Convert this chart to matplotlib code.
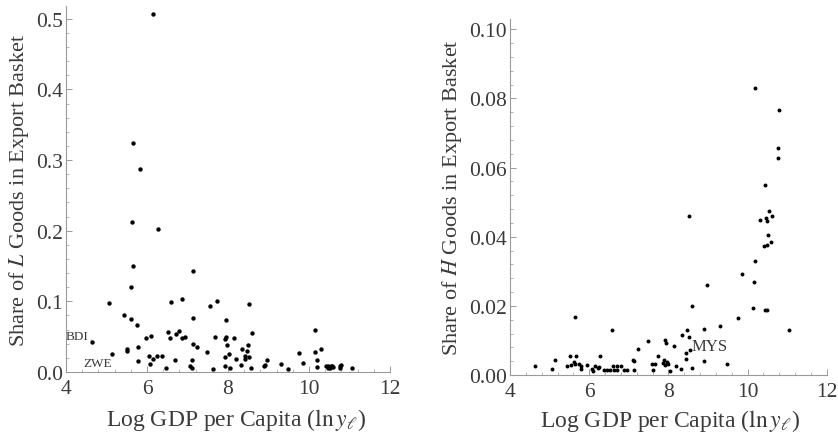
import matplotlib
matplotlib.use("Agg")
from matplotlib import pyplot as plt
from matplotlib.ticker import AutoMinorLocator, MultipleLocator, FormatStrFormatter

# share of L goods vs log gdp per capita
lx = [6.16, 5.65, 5.82, 5.62, 6.26, 5.65, 7.14, 5.61, 5.06, 6.59, 6.86, 7.55, 7.74, 8.51,
      5.42, 5.61, 7.13, 5.76, 7.95, 4.63, 5.14, 5.51, 5.51, 5.79, 5.78, 5.97, 6.11, 6.06,
      6.07, 6.16, 6.25, 6.37, 6.46, 6.52, 6.58, 6.71, 6.80, 6.86, 6.94, 6.69, 7.13, 7.23,
      7.11, 7.06, 7.10, 7.47, 7.62, 7.69, 8.60, 7.95, 7.93, 8.15, 7.98, 8.50, 8.35, 8.46,
      7.93, 8.03, 8.20, 8.31, 8.41, 8.43, 8.53, 8.04, 7.93, 8.58, 8.90, 8.92, 8.97, 9.30,
      9.48, 9.76, 9.86, 10.14, 10.16, 10.30, 10.19, 10.20, 10.42, 10.46, 10.50, 10.53,
      10.56, 10.60, 10.48, 10.55, 10.77, 10.77, 10.78, 11.05]
ly = [0.507, 0.324, 0.288, 0.212, 0.203, 0.150, 0.143, 0.120, 0.097, 0.099, 0.103, 0.093,
      0.100, 0.096, 0.081, 0.075, 0.077, 0.067, 0.073, 0.043, 0.025, 0.033, 0.030, 0.036,
      0.015, 0.048, 0.051, 0.023, 0.012, 0.018, 0.023, 0.023, 0.006, 0.057, 0.048, 0.054,
      0.058, 0.048, 0.050, 0.017, 0.040, 0.035, 0.017, 0.009, 0.005, 0.028, 0.004, 0.050,
      0.055, 0.049, 0.046, 0.048, 0.038, 0.038, 0.032, 0.030, 0.021, 0.025, 0.019, 0.010,
      0.022, 0.019, 0.021, 0.005, 0.009, 0.006, 0.008, 0.010, 0.017, 0.012, 0.004, 0.027,
      0.013, 0.059, 0.028, 0.032, 0.017, 0.007, 0.009, 0.008, 0.007, 0.006, 0.008, 0.007,
      0.006, 0.009, 0.008, 0.006, 0.010, 0.006]

# share of H goods vs log gdp per capita
rx = [10.19, 10.80, 10.76, 10.78, 10.43, 8.52, 10.31, 10.47, 10.50, 10.55, 10.63, 10.52,
      10.59, 10.42, 10.49, 10.20, 9.87, 10.16, 8.98, 8.60, 10.15, 10.45, 10.50, 9.77, 5.63,
      9.30, 8.91, 11.06, 6.58, 8.46, 8.35, 8.51, 7.49, 7.92, 7.94, 8.15, 7.23, 8.55, 8.44,
      5.52, 5.67, 6.27, 5.14, 7.75, 8.44, 8.91, 9.48, 4.64, 5.07, 5.43, 5.54, 5.62, 5.63,
      5.74, 5.79, 5.79, 5.95, 6.06, 6.09, 6.15, 6.22, 6.24, 6.38, 6.46, 6.53, 6.61, 6.70,
      6.80, 6.63, 6.71, 6.88, 6.95, 7.10, 7.13, 7.12, 7.58, 7.66, 7.62, 7.87, 7.92, 7.96,
      8.00, 7.90, 8.19, 8.32, 8.05, 8.59]
ry = [0.0829, 0.0767, 0.0658, 0.0627, 0.0551, 0.0459, 0.0449, 0.0453, 0.0447, 0.0474,
      0.0460, 0.0405, 0.0386, 0.0372, 0.0375, 0.0330, 0.0293, 0.0270, 0.0259, 0.0199,
      0.0194, 0.0187, 0.0187, 0.0165, 0.0168, 0.0143, 0.0134, 0.0130, 0.0129, 0.0130,
      0.0117, 0.0110, 0.0099, 0.0102, 0.0094, 0.0083, 0.0075, 0.0073, 0.0064, 0.0056,
      0.0056, 0.0056, 0.0043, 0.0054, 0.0045, 0.0040, 0.0032, 0.0025, 0.0017, 0.0027,
      0.0030, 0.0038, 0.0032, 0.0032, 0.0025, 0.0017, 0.0029, 0.0017, 0.0012, 0.0025,
      0.0019, 0.0022, 0.0014, 0.0014, 0.0014, 0.0025, 0.0025, 0.0025, 0.0014, 0.0014,
      0.0014, 0.0014, 0.0043, 0.0040, 0.0014, 0.0032, 0.0032, 0.0014, 0.0035, 0.0030,
      0.0038, 0.0032, 0.0042, 0.0026, 0.0017, 0.0012, 0.0021]

plt.rcParams['font.family'] = ['Liberation Serif', 'DejaVu Serif']
plt.rcParams['mathtext.fontset'] = 'stix'

axcol = '#9a9a9a'
txtcol = '#3a3a3a'

fig = plt.figure(figsize=(8.38, 4.35), dpi=100)


def style_axes(ax, ymax, ystep, fmt, xlab_x, xlab_y):
    for s in ['top', 'right']:
        ax.spines[s].set_visible(False)
    for s in ['left', 'bottom']:
        ax.spines[s].set_color(axcol)
        ax.spines[s].set_linewidth(0.8)
    ax.set_xlim(4, 12)
    ax.set_ylim(0, ymax)
    ax.xaxis.set_major_locator(MultipleLocator(2))
    ax.yaxis.set_major_locator(MultipleLocator(ystep))
    ax.yaxis.set_major_formatter(FormatStrFormatter(fmt))
    ax.xaxis.set_minor_locator(AutoMinorLocator(5))
    ax.yaxis.set_minor_locator(AutoMinorLocator(5))
    ax.tick_params(which='major', direction='in', length=4, width=0.7, color=axcol,
                   labelsize=15.5, labelcolor=txtcol, pad=2)
    ax.tick_params(which='minor', direction='in', length=2, width=0.5, color=axcol)
    ax.tick_params(axis='x', which='major', pad=5)
    ax.set_xlabel(r'Log GDP per Capita ($\ln y_\ell$)', fontsize=17, color=txtcol)
    ax.xaxis.set_label_coords(xlab_x, xlab_y, transform=ax.transAxes)
    ax.xaxis.label.set_va('center')


ax1 = fig.add_axes([66 / 838, 62 / 435, 324 / 838, 366 / 435])
style_axes(ax1, 0.518, 0.1, '%.1f', 0.525, -0.128)
ax1.scatter(lx, ly, s=10, color='black', linewidths=0, clip_on=False, zorder=3)
ax1.set_ylabel(r'Share of $L$ Goods in Export Basket', fontsize=16, color=txtcol, labelpad=4)
ax1.annotate('BDI', xy=(4.62, 0.045), xytext=(4.55, 0.051), fontsize=9.5, color=txtcol,
             ha='right', va='center',
             arrowprops=dict(arrowstyle='-', color=txtcol, lw=0.7, shrinkA=0, shrinkB=0))
ax1.text(4.42, 0.013, 'ZWE', fontsize=9.5, color=txtcol, ha='left', va='center')

ax2 = fig.add_axes([510 / 838, 59 / 435, 316.7 / 838, 356 / 435])
style_axes(ax2, 0.103, 0.02, '%.2f', 0.505, -0.126)
ax2.scatter(rx, ry, s=8, color='black', linewidths=0, clip_on=False, zorder=3)
ax2.set_ylabel(r'Share of $H$ Goods in Export Basket', fontsize=16, color=txtcol, labelpad=4)
ax2.text(8.59, 0.0083, 'MYS', fontsize=12, color=txtcol, ha='left', va='center')

fig.savefig('out.png', dpi=100)
